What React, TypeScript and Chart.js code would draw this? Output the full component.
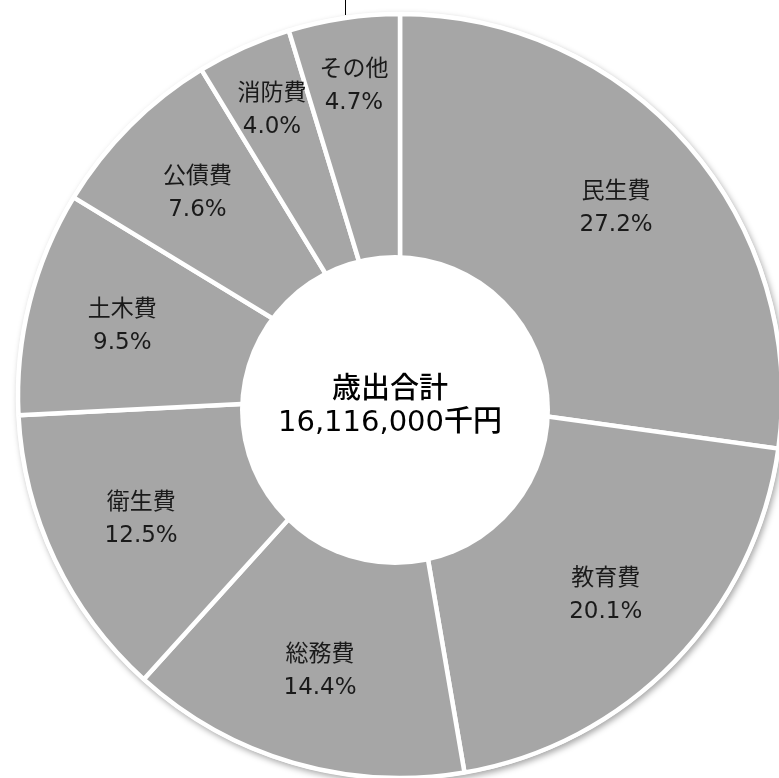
import React, { useEffect, useRef } from "react";
import { Chart, registerables } from "chart.js";

Chart.register(...registerables);

const categories = ["民生費", "教育費", "総務費", "衛生費", "土木費", "公債費", "消防費", "その他"];
const shares = [27.2, 20.1, 14.4, 12.5, 9.5, 7.6, 4.0, 4.7];
const totalTitle = "歳出合計";
const totalAmount = "16,116,000千円";

const FONT = '"DejaVu Sans", "Noto Sans CJK JP", sans-serif';

const decorPlugin = {
  id: "decor",
  beforeDatasetsDraw(chart: any) {
    const arc = chart.getDatasetMeta(0).data[0];
    if (!arc) return;
    const ctx = chart.ctx;
    ctx.save();
    ctx.shadowColor = "rgba(0,0,0,0.35)";
    ctx.shadowBlur = 6;
    ctx.shadowOffsetX = 2;
    ctx.shadowOffsetY = 3;
    ctx.fillStyle = "#ffffff";
    ctx.beginPath();
    ctx.arc(arc.x, arc.y, arc.outerRadius + 2, 0, Math.PI * 2);
    ctx.fill();
    ctx.restore();
  },
  afterDatasetsDraw(chart: any) {
    const meta = chart.getDatasetMeta(0);
    const arcs = meta.data;
    if (!arcs.length) return;
    const ctx = chart.ctx;
    const cx = arcs[0].x;
    const cy = arcs[0].y;
    const R = arcs[0].outerRadius;
    ctx.save();
    // hole
    ctx.fillStyle = "#ffffff";
    ctx.beginPath();
    ctx.arc(cx - 5, cy + 14, 155, 0, Math.PI * 2);
    ctx.fill();
    // center text
    ctx.fillStyle = "#000000";
    ctx.textAlign = "center";
    ctx.textBaseline = "middle";
    ctx.font = `500 29px ${FONT}`;
    ctx.fillText(totalTitle, cx - 10, cy - 6);
    ctx.fillText(totalAmount, cx - 10, cy + 27);
    // slice labels
    ctx.fillStyle = "#1a1a1a";
    ctx.font = `400 23px ${FONT}`;
    arcs.forEach((a: any, i: number) => {
      const span = a.endAngle - a.startAngle;
      const mid = (a.startAngle + a.endAngle) / 2;
      const r = span < 0.35 ? R * 0.82 : R * 0.75;
      const x = cx + Math.cos(mid) * r;
      const y = cy + Math.sin(mid) * r;
      ctx.fillText(categories[i], x, y - 16);
      ctx.fillText(shares[i].toFixed(1) + "%", x, y + 17);
    });
    // small leader tick at top
    ctx.strokeStyle = "#000000";
    ctx.lineWidth = 1;
    ctx.beginPath();
    ctx.moveTo(cx - 54.5, 0);
    ctx.lineTo(cx - 54.5, cy - R + 1);
    ctx.stroke();
    ctx.restore();
  },
};

export default function App() {
  const ref = useRef<HTMLCanvasElement | null>(null);
  useEffect(() => {
    if (!ref.current) return;
    const chart = new Chart(ref.current, {
      type: "doughnut",
      data: {
        labels: categories,
        datasets: [
          {
            data: shares,
            backgroundColor: "#a6a6a6",
            borderColor: "#ffffff",
            borderWidth: 4.5,
            hoverOffset: 0,
          },
        ],
      },
      options: {
        responsive: false,
        animation: false,
        cutout: 0,
        radius: 382,
        layout: { padding: 0 },
        plugins: {
          legend: { display: false },
          tooltip: { enabled: false },
        },
        events: [],
      },
      plugins: [decorPlugin],
    });
    return () => chart.destroy();
  }, []);
  return (
    <div
      style={{
        position: "fixed",
        left: 0,
        top: 0,
        width: 779,
        height: 778,
        overflow: "hidden",
        background: "#ffffff",
      }}
    >
      <canvas
        ref={ref}
        width={800}
        height={800}
        style={{ position: "absolute", left: 0, top: -4, width: 800, height: 800 }}
      />
    </div>
  );
}
